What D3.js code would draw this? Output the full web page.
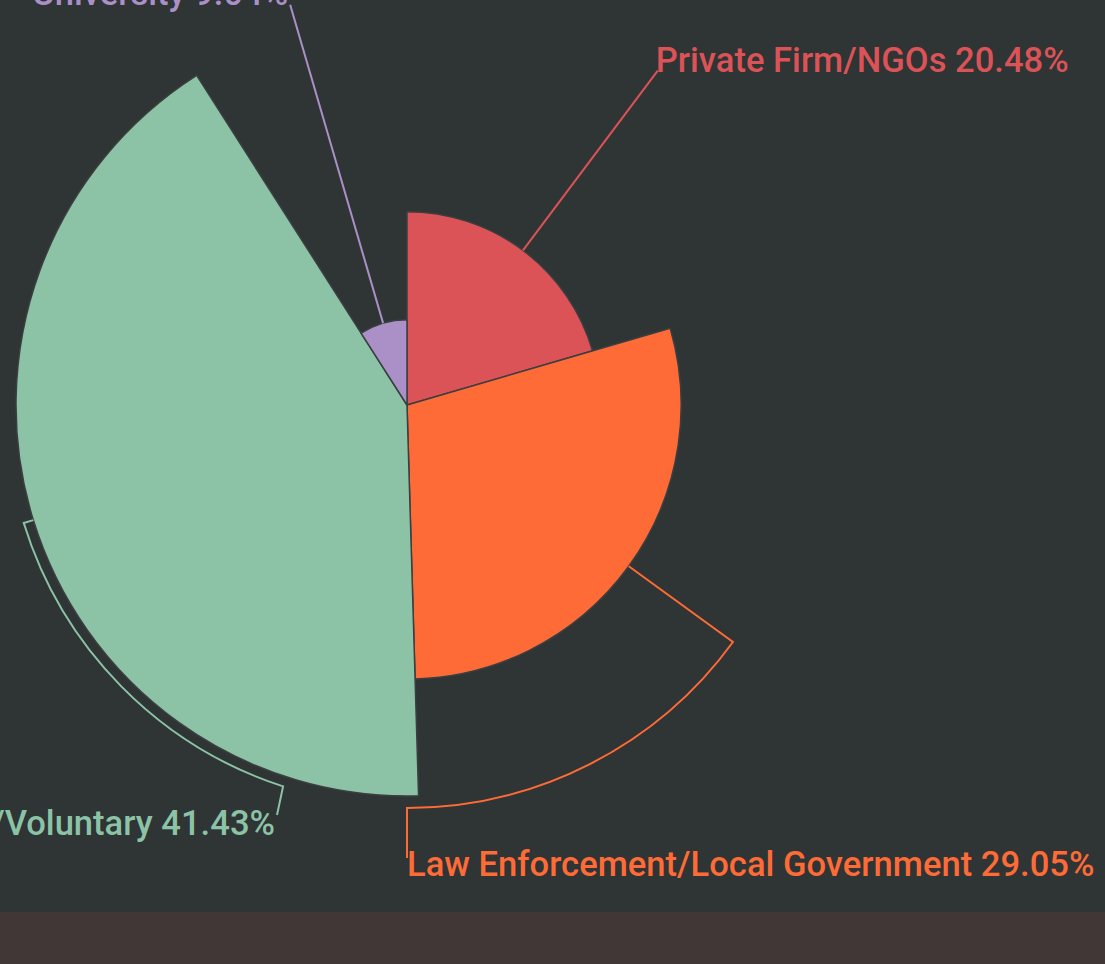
<!DOCTYPE html>
<html>
<head>
<meta charset="utf-8">
<script src="https://cdn.jsdelivr.net/npm/d3@7"></script>
<style>
  html, body { margin: 0; padding: 0; background: #2f3435; overflow: hidden; }
  svg { display: block; }
</style>
</head>
<body>
<svg id="chart" width="1105" height="964"></svg>
<script>
// data
const categories = ["Private Firm/NGOs", "Law Enforcement/Local Government", "Community/Voluntary", "University"];
const shares = [20.48, 29.05, 41.43, 9.04];
const colors = ["#db5356", "#fe6b37", "#8cc3a7", "#ab90c8"];

// label leader layout (per slice): radius of the first bend, optional arc end angle, and text anchor point
const leaders = [
  { r1: 418, anchor: "start", dx: -2, dy: 1 },
  { r1: 403, arcTo: 180, drop: [407, 858], text: [407, 876], anchor: "start" },
  { r1: 401, arcTo: 198, drop: [277, 815], text: [275, 835], anchor: "end" },
  { r1: 417, anchor: "end", dx: -2, dy: 0 }
];

const width = 1105, height = 964;
const cx = 407, cy = 405, maxR = 391;
const svg = d3.select("#chart");

// 背景
svg.append("rect").attr("width", width).attr("height", height).attr("fill", "#2f3435");
svg.append("rect").attr("x", 0).attr("y", 912).attr("width", width).attr("height", height - 912).attr("fill", "#413736");

const g = svg.append("g").attr("transform", `translate(${cx},${cy})`);

const pie = d3.pie().sort(null).value(d => d);
const arcs = pie(shares);

// radius follows the value (rose)
const r = d3.scaleLinear().domain([0, d3.max(shares)]).range([0, maxR]);

const arcGen = d3.arc().innerRadius(0).outerRadius(d => r(d.data));

g.selectAll("path.slice")
  .data(arcs)
  .enter()
  .append("path")
  .attr("class", "slice")
  .attr("d", arcGen)
  .attr("fill", (d, i) => colors[i])
  .attr("stroke", "#3c3f40")
  .attr("stroke-width", 1.5)
  .attr("stroke-linejoin", "round");

// polar -> xy (angle clockwise from top, degrees)
function pt(rad, deg) {
  const a = deg * Math.PI / 180;
  return [rad * Math.sin(a), -rad * Math.cos(a)];
}

arcs.forEach((d, i) => {
  const L = leaders[i];
  const mid = (d.startAngle + d.endAngle) / 2 * 180 / Math.PI;
  const p0 = pt(r(d.data), mid);
  const p1 = pt(L.r1, mid);
  const path = d3.path();
  path.moveTo(p0[0], p0[1]);
  path.lineTo(p1[0], p1[1]);
  let tx, ty;
  if (L.arcTo !== undefined) {
    const a0 = (mid - 90) * Math.PI / 180;
    const a1 = (L.arcTo - 90) * Math.PI / 180;
    path.arc(0, 0, L.r1, a0, a1, a1 < a0);
    path.lineTo(L.drop[0] - cx, L.drop[1] - cy);
    tx = L.text[0] - cx;
    ty = L.text[1] - cy;
  } else {
    tx = p1[0] + L.dx;
    ty = p1[1] + L.dy;
  }
  g.append("path")
    .attr("d", path.toString())
    .attr("fill", "none")
    .attr("stroke", colors[i])
    .attr("stroke-width", 2);
  g.append("text")
    .attr("x", tx)
    .attr("y", ty)
    .attr("text-anchor", L.anchor)
    .attr("fill", colors[i])
    .style("font-family", "Roboto, sans-serif")
    .style("font-size", "34.6px")
    .style("font-weight", 500)
    .text(`${categories[i]} ${d3.format(".2f")(d.data)}%`);
});
</script>
</body>
</html>
